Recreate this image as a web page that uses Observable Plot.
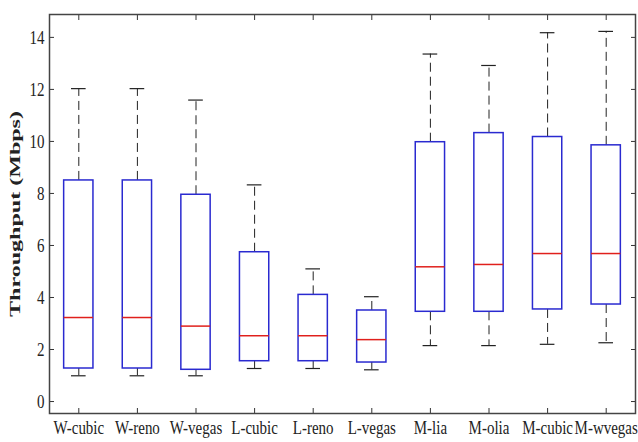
<!DOCTYPE html>
<html><head><meta charset="utf-8">
<script src="https://cdn.jsdelivr.net/npm/d3@7"></script>
<script src="https://cdn.jsdelivr.net/npm/@observablehq/plot@0.6"></script>
<style>body{margin:0;background:#fff}</style>
</head><body><div id="chart"></div>
<script>
const categories = ["W-cubic","W-reno","W-vegas","L-cubic","L-reno","L-vegas","M-lia","M-olia","M-cubic","M-wvegas"];
const lowerWhisker = [0.99, 0.99, 0.99, 1.27, 1.27, 1.22, 2.15, 2.15, 2.20, 2.26];
const q1Values     = [1.27, 1.27, 1.22, 1.55, 1.55, 1.50, 3.45, 3.45, 3.54, 3.73];
const medianValues = [3.23, 3.23, 2.90, 2.53, 2.53, 2.38, 5.18, 5.27, 5.69, 5.69];
const q3Values     = [8.50, 8.50, 7.95, 5.74, 4.10, 3.50, 9.97, 10.32, 10.17, 9.85];
const upperWhisker = [12.03, 12.03, 11.59, 8.33, 5.10, 4.03, 13.36, 12.92, 14.18, 14.23];
const yTicks = [0, 2, 4, 6, 8, 10, 12, 14];
const yLabel = "Throughput (Mbps)";

const rows = categories.map((name, i) => ({
  pos: i + 1, name,
  lo: lowerWhisker[i], q1: q1Values[i], med: medianValues[i], q3: q3Values[i], hi: upperWhisker[i]
}));
const boxHalf = 0.25, capHalf = 0.125;
const font = "'Liberation Serif','Times New Roman',Times,serif";
const blank = () => "";

const plot = Plot.plot({
  width: 638, height: 442,
  marginLeft: 49, marginRight: 3, marginTop: 14, marginBottom: 29,
  style: {fontFamily: font, fontSize: "15px", background: "#fff", color: "#222"},
  x: {domain: [0.5, 10.5]},
  y: {domain: [-0.46, 14.88]},
  marks: [
    Plot.axisX({anchor: "bottom", ticks: rows.map(d => d.pos), tickFormat: v => categories[v - 1], tickSize: -5, tickPadding: 12, label: null, stroke: "#333"}),
    Plot.axisX({anchor: "top", ticks: rows.map(d => d.pos), tickFormat: blank, tickSize: -5, label: null, stroke: "#333"}),
    Plot.axisY({anchor: "left", ticks: yTicks, tickSize: -5, tickPadding: 10, label: yLabel, labelAnchor: "center", labelOffset: 40, labelArrow: "none", stroke: "#333"}),
    Plot.axisY({anchor: "right", ticks: yTicks, tickFormat: blank, tickSize: -5, label: null, stroke: "#333"}),
    Plot.frame({stroke: "#444", strokeWidth: 1.5}),
    // whiskers
    Plot.ruleX(rows, {x: "pos", y1: "q3", y2: "hi", stroke: "#222", strokeWidth: 1, strokeDasharray: "9,5"}),
    Plot.ruleX(rows, {x: "pos", y1: "q1", y2: "lo", stroke: "#222", strokeWidth: 1, strokeDasharray: "9,5"}),
    Plot.ruleY(rows, {y: "hi", x1: d => d.pos - capHalf, x2: d => d.pos + capHalf, stroke: "#222", strokeWidth: 1.2}),
    Plot.ruleY(rows, {y: "lo", x1: d => d.pos - capHalf, x2: d => d.pos + capHalf, stroke: "#222", strokeWidth: 1.2}),
    // boxes
    Plot.rect(rows, {x1: d => d.pos - boxHalf, x2: d => d.pos + boxHalf, y1: "q1", y2: "q3", fill: "none", stroke: "#2a2ad0", strokeWidth: 1.5}),
    // medians
    Plot.ruleY(rows, {y: "med", x1: d => d.pos - boxHalf, x2: d => d.pos + boxHalf, stroke: "#e0201c", strokeWidth: 1.5})
  ]
});
document.getElementById("chart").append(plot);
// vertically stretched serif labels, as in the reference
plot.querySelectorAll('[aria-label="x-axis tick label"] text, [aria-label="y-axis tick label"] text').forEach(t => {
  const tr = t.getAttribute("transform") || "";
  t.setAttribute("transform", tr + " scale(1,1.3)");
});
const lab = plot.querySelector('[aria-label="y-axis label"] text');
if (lab) {
  lab.textContent = yLabel;
  lab.setAttribute("font-weight", "bold");
  lab.setAttribute("textLength", "206");
  lab.setAttribute("lengthAdjust", "spacingAndGlyphs");
}
</script>
</body></html>
